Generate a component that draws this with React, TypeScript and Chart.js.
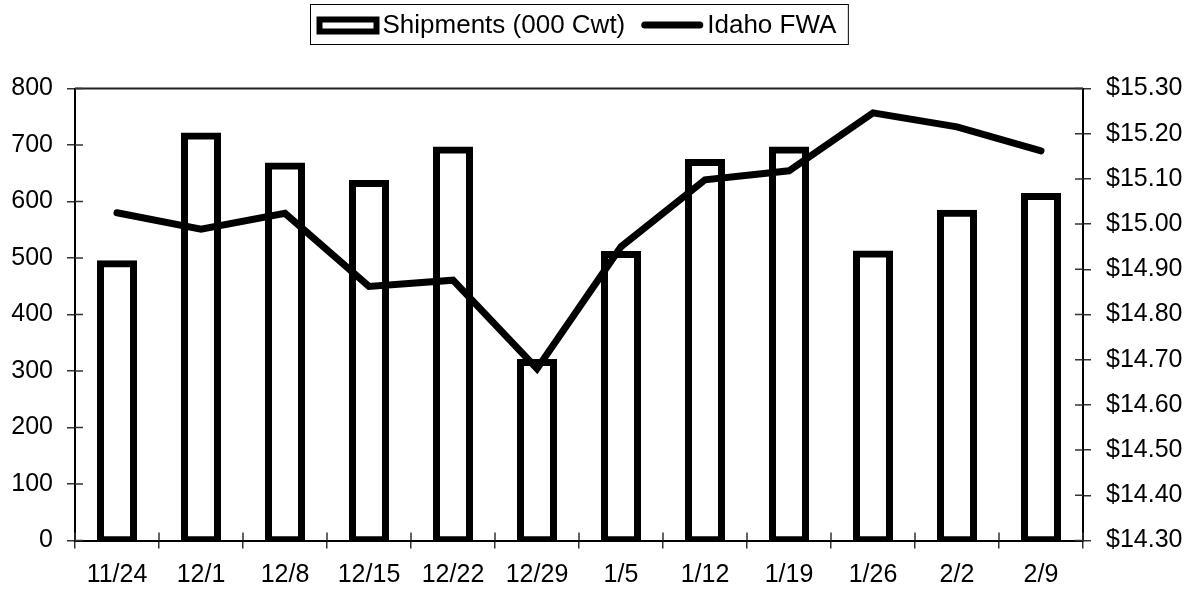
import React, { useEffect, useRef } from 'react';
import { Chart, registerables } from 'chart.js';

Chart.register(...registerables);

const categories = ['11/24', '12/1', '12/8', '12/15', '12/22', '12/29', '1/5', '1/12', '1/19', '1/26', '2/2', '2/9'];
const shipments = [490, 716, 663, 632, 691, 315, 506, 669, 691, 507, 579, 609];
const idahoFWA = [15.025, 14.989, 15.024, 14.862, 14.876, 14.68, 14.95, 15.098, 15.118, 15.246, 15.215, 15.162];
const leftTicks = [0, 100, 200, 300, 400, 500, 600, 700, 800];
const rightTicks = [14.3, 14.4, 14.5, 14.6, 14.7, 14.8, 14.9, 15.0, 15.1, 15.2, 15.3];

const FONT = '"Liberation Sans", Arial, sans-serif';

const boxLegend = {
  id: 'boxLegend',
  afterDraw(chart: any) {
    const ctx = chart.ctx as CanvasRenderingContext2D;
    const ds = chart.data.datasets;
    const area = chart.chartArea;
    ctx.save();
    ctx.font = '26px ' + FONT;
    const w0 = ctx.measureText(ds[0].label).width;
    const w1 = ctx.measureText(ds[1].label).width;
    const total = 6 + 63 + 3 + w0 + 16 + 62 + 4 + w1 + 12;
    const x0 = Math.round((area.left + area.right) / 2 - total / 2) + 0.5;
    const top = 4.5;
    const h = 40;
    ctx.strokeStyle = '#000';
    ctx.lineWidth = 1;
    ctx.strokeRect(x0, top, total, h);
    // bar swatch
    let x = x0 + 6;
    ctx.lineWidth = 6;
    ctx.strokeRect(x + 3, 19.5, 57, 12);
    x += 63 + 3;
    ctx.fillStyle = '#000';
    ctx.textBaseline = 'middle';
    ctx.textAlign = 'left';
    ctx.fillText(ds[0].label, x, 26);
    x += w0 + 16;
    // line swatch
    ctx.lineWidth = 7;
    ctx.lineCap = 'round';
    ctx.beginPath();
    ctx.moveTo(x + 3.5, 25);
    ctx.lineTo(x + 62 - 3.5, 25);
    ctx.stroke();
    x += 62 + 4;
    ctx.fillText(ds[1].label, x, 26);
    // top border of the plot area
    ctx.lineCap = 'butt';
    ctx.lineWidth = 2;
    ctx.strokeStyle = '#222';
    ctx.beginPath();
    ctx.moveTo(area.left, area.top);
    ctx.lineTo(area.right, area.top);
    ctx.stroke();
    // inner halves of crossing tick marks
    ctx.lineWidth = 1.5;
    ctx.strokeStyle = '#333';
    const sx = chart.scales.x;
    const sy = chart.scales.y;
    const sy1 = chart.scales.y1;
    ctx.beginPath();
    for (let i = 0; i <= categories.length; i++) {
      const px = sx.getPixelForValue(i - 0.5);
      ctx.moveTo(px, area.bottom);
      ctx.lineTo(px, area.bottom - 8);
    }
    leftTicks.forEach((v) => {
      const py = sy.getPixelForValue(v);
      ctx.moveTo(area.left, py);
      ctx.lineTo(area.left + 8, py);
    });
    rightTicks.forEach((v) => {
      const py = sy1.getPixelForValue(v);
      ctx.moveTo(area.right, py);
      ctx.lineTo(area.right - 8, py);
    });
    ctx.stroke();
    ctx.restore();
  },
};

export default function App() {
  const ref = useRef<HTMLCanvasElement | null>(null);

  useEffect(() => {
    if (!ref.current) return;
    const tickFont = { family: FONT, size: 25 };
    const chart = new Chart(ref.current, {
      type: 'bar',
      data: {
        labels: categories,
        datasets: [
          {
            type: 'bar',
            label: 'Shipments (000 Cwt)',
            data: shipments,
            backgroundColor: '#ffffff',
            borderColor: '#000000',
            borderWidth: 7,
            borderSkipped: false,
            inflateAmount: 3.5,
            barPercentage: 0.393,
            categoryPercentage: 1,
            yAxisID: 'y',
            order: 1,
          } as any,
          {
            type: 'line',
            label: 'Idaho FWA',
            data: idahoFWA,
            borderColor: '#000000',
            backgroundColor: '#000000',
            borderWidth: 7,
            borderCapStyle: 'round',
            borderJoinStyle: 'miter',
            pointRadius: 0,
            tension: 0,
            fill: false,
            yAxisID: 'y1',
            order: 0,
          } as any,
        ],
      },
      options: {
        responsive: false,
        devicePixelRatio: 1,
        animation: false,
        layout: { padding: { top: 88.5, left: 0, right: 0, bottom: 0 } },
        plugins: {
          legend: { display: false },
          tooltip: { enabled: false },
        },
        scales: {
          x: {
            type: 'category',
            offset: true,
            grid: { display: true, drawOnChartArea: false, offset: true, tickLength: 8, color: '#333', lineWidth: 1.5 },
            border: { display: true, color: '#000', width: 2 },
            ticks: { color: '#000', font: tickFont, padding: 12, maxRotation: 0, autoSkip: false },
            afterFit: (s: any) => { s.height = 51.5; },
          },
          y: {
            type: 'linear',
            position: 'left',
            min: 0,
            max: 800,
            afterBuildTicks: (s: any) => { s.ticks = leftTicks.map((v) => ({ value: v })); },
            grid: { display: true, drawOnChartArea: false, tickLength: 8, color: '#333', lineWidth: 1.5 },
            border: { display: true, color: '#000', width: 2 },
            ticks: { color: '#000', font: tickFont, padding: 14 },
            afterFit: (s: any) => { s.width = 75; },
          },
          y1: {
            type: 'linear',
            position: 'right',
            min: 14.3,
            max: 15.3,
            afterBuildTicks: (s: any) => { s.ticks = rightTicks.map((v) => ({ value: v })); },
            grid: { display: true, drawOnChartArea: false, tickLength: 8, color: '#333', lineWidth: 1.5 },
            border: { display: true, color: '#000', width: 2 },
            ticks: {
              color: '#000',
              font: tickFont,
              padding: 15,
              callback: (v: any) => '$' + Number(v).toFixed(2),
            },
            afterFit: (s: any) => { s.width = 110; },
          },
        },
      },
      plugins: [boxLegend],
    });
    return () => chart.destroy();
  }, []);

  return (
    <div style={{ position: 'fixed', left: 0, top: 0, width: 1193, height: 592, background: '#fff' }}>
      <canvas ref={ref} width={1193} height={592} style={{ display: 'block' }} />
    </div>
  );
}
